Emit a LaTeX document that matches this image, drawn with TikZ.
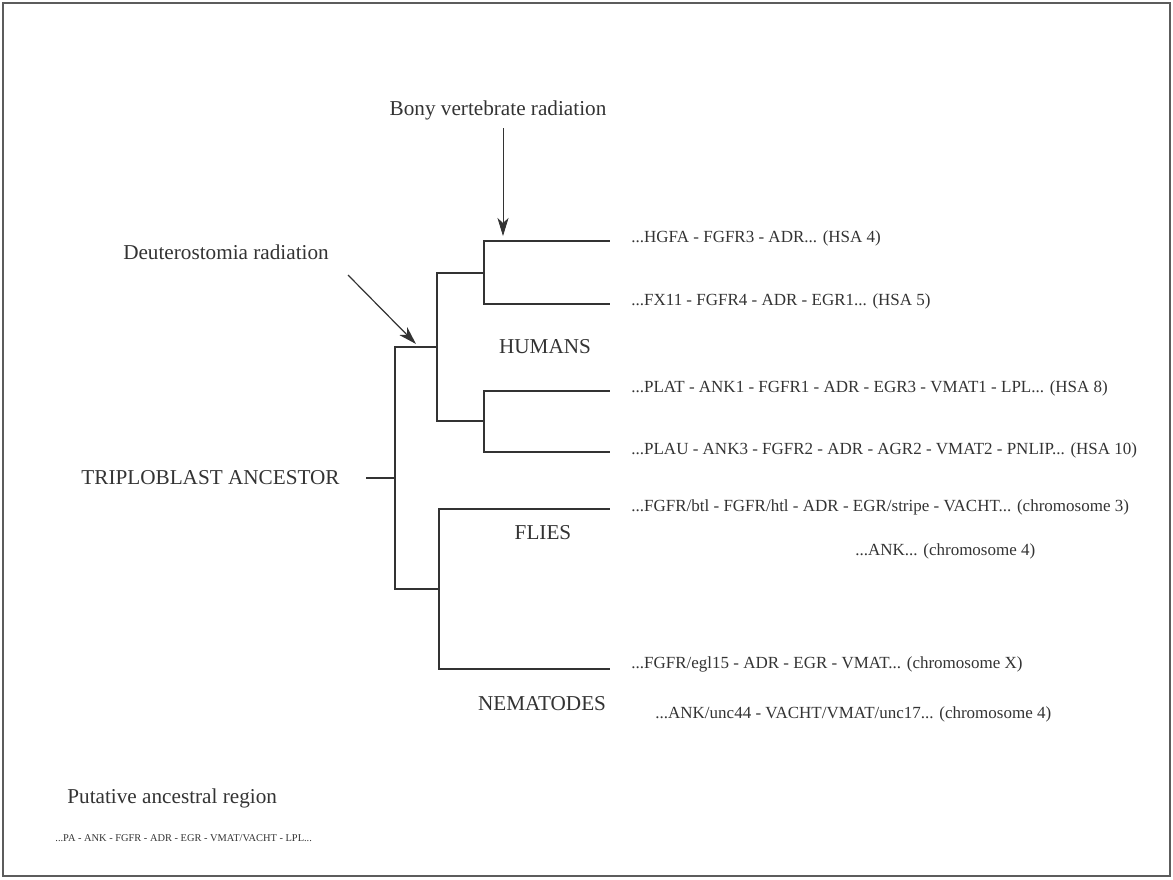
\documentclass[tikz,border=0pt]{standalone}
\usepackage{fontspec}
\setmainfont{Liberation Serif}
\usepackage{tikz}
\usetikzlibrary{arrows.meta,positioning}
\definecolor{ink}{HTML}{333333}
\tikzset {
	branch/.style={draw=ink, line width=0.8pt},
	label/.style={text=ink, font=\fontsize{10.6}{12}\selectfont, inner sep=0pt},
	genes/.style={text=ink, font=\fontsize{8.5}{10}\selectfont, inner sep=0pt, anchor=west},
	pointer/.style={draw=ink, line width=0.6pt, -{Stealth[length=9pt,width=5.5pt,inset=2.5pt]}}
}

\begin{document}
\begin{tikzpicture}[x=0.5pt,y=-0.5pt]
	\useasboundingbox (0,0) rectangle (1173,879);
	\draw[draw=ink!80, line width=0.6pt] (3,3) rectangle (1170,876);
	% junctions of the tree
	\coordinate (stub) at (366,478);
	\coordinate (root) at (395,478);
	\coordinate (deut) at (437,347);
	\coordinate (prot) at (439,589);
	\coordinate (hupper) at (484,273);
	\coordinate (hlower) at (484,421);
	\coordinate (hsa4) at (610,241);
	\coordinate (hsa5) at (610,304);
	\coordinate (hsa8) at (610,391);
	\coordinate (hsa10) at (610,452);
	\coordinate (fly) at (610,509);
	\coordinate (worm) at (610,669);
	\draw[branch] (stub) -- (root);
	\draw[branch] (root) |- (deut) (root) |- (prot);
	\draw[branch] (deut) |- (hupper) (deut) |- (hlower);
	\draw[branch] (hupper) |- (hsa4) (hupper) |- (hsa5);
	\draw[branch] (hlower) |- (hsa8) (hlower) |- (hsa10);
	\draw[branch] (prot) |- (fly) (prot) |- (worm);
	% labels
	\node[label, anchor=east] (ancestor) at (340,478) {TRIPLOBLAST ANCESTOR};
	\node[label] (bony) at (498,110) {Bony vertebrate radiation};
	\node[label] (deutero) at (226,252) {Deuterostomia radiation};
	\node[label] (humans) at (545,347) {HUMANS};
	\node[label] (flies) at (543,533) {FLIES};
	\node[label] (nematodes) at (542,704) {NEMATODES};
	\coordinate (bonytip) at (503,236);
	\coordinate (deuttip) at (416,344);
	\draw[pointer, line width=0.4pt] (503,128) -- (bonytip);
	\draw[pointer] (348,275) -- (deuttip);
	% gene orders
	\node[genes] (g4) at (631,238) {...HGFA - FGFR3 - ADR... (HSA 4)};
	\node[genes] (g5) at (631,301) {...FX11 - FGFR4 - ADR - EGR1... (HSA 5)};
	\node[genes] (g8) at (631,388) {...PLAT - ANK1 - FGFR1 - ADR - EGR3 - VMAT1 - LPL... (HSA 8)};
	\node[genes] (g10) at (631,450) {...PLAU - ANK3 - FGFR2 - ADR - AGR2 - VMAT2 - PNLIP... (HSA 10)};
	\node[genes] (fly3) at (631,507) {...FGFR/btl - FGFR/htl - ADR - EGR/stripe - VACHT... (chromosome 3)};
	\node[genes] (fly4) at (855,551) {...ANK... (chromosome 4)};
	\node[genes] (wormx) at (631,664) {...FGFR/egl15 - ADR - EGR - VMAT... (chromosome X)};
	\node[genes] (worm4) at (655,714) {...ANK/unc44 - VACHT/VMAT/unc17... (chromosome 4)};
	\node[label, anchor=west] (putative) at (67,798) {Putative ancestral region};
	\node[genes, font=\fontsize{5.2}{6.5}\selectfont] (ancient) at (55,838) {...PA - ANK - FGFR - ADR - EGR - VMAT/VACHT - LPL...};
\end{tikzpicture}
\end{document}
